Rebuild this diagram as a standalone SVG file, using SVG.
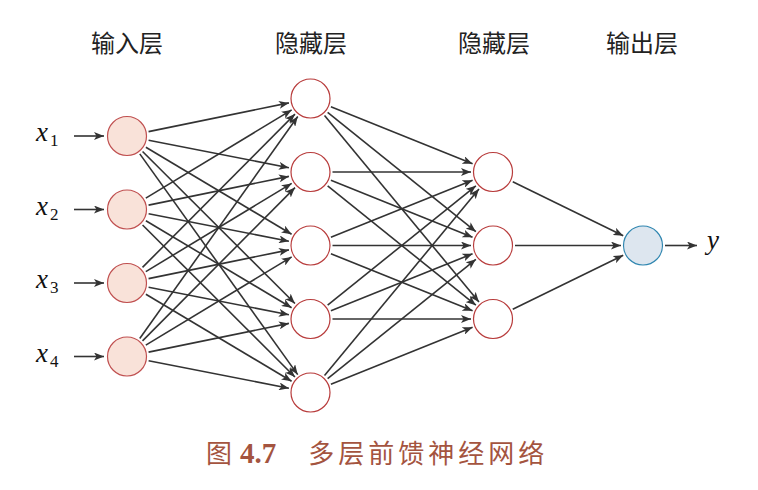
<svg xmlns="http://www.w3.org/2000/svg" width="758" height="490" viewBox="0 0 758 490">
<defs>
<style>
.hdr{font-family:"Noto Sans CJK SC",sans-serif;font-size:24px;fill:#222;text-anchor:middle}
.var{font-family:"Liberation Serif","DejaVu Serif",serif;font-style:italic;font-size:27px;fill:#111}
.sub{font-family:"Liberation Serif","DejaVu Serif",serif;font-size:17px;fill:#111}
.cap{font-family:"Noto Sans CJK SC",sans-serif;font-size:26px;fill:#a4543f}
.capn{font-family:"Liberation Serif","DejaVu Serif",serif;font-weight:bold;font-size:29px;fill:#a4543f}
.in{fill:#f9e2d9;stroke:#c05050;stroke-width:1.2}
.hid{fill:#fff;stroke:#b83c3c;stroke-width:1.2}
.out{fill:#dde6ef;stroke:#2f86b0;stroke-width:1.2}
#edges line{stroke:#333;stroke-width:1.6;marker-end:url(#ah)}
</style>
<marker id="ah" viewBox="0 0 10 8" refX="10" refY="4" markerWidth="10" markerHeight="8" markerUnits="userSpaceOnUse" orient="auto">
<path d="M0,0 L10,4 L0,8 L2.5,4 z" fill="#333"/>
</marker>
</defs>
<rect width="758" height="490" fill="#fff"/>
<g id="headers">
<text class="hdr" x="127" y="52">输入层</text>
<text class="hdr" x="311" y="52">隐藏层</text>
<text class="hdr" x="494" y="52">隐藏层</text>
<text class="hdr" x="642" y="52">输出层</text>
</g>
<g id="edges">
<line x1="74" y1="136" x2="104" y2="136"/>
<line x1="74" y1="209.5" x2="104" y2="209.5"/>
<line x1="74" y1="283" x2="104" y2="283"/>
<line x1="74" y1="356.5" x2="104" y2="356.5"/>
<line x1="148.56" y1="131.60" x2="288.94" y2="102.90"/>
<line x1="148.59" y1="140.24" x2="288.91" y2="167.76"/>
<line x1="145.89" y1="147.27" x2="291.61" y2="234.23"/>
<line x1="142.58" y1="151.53" x2="294.92" y2="303.47"/>
<line x1="139.80" y1="153.89" x2="297.70" y2="374.61"/>
<line x1="145.82" y1="198.11" x2="291.68" y2="109.89"/>
<line x1="148.56" y1="205.10" x2="288.94" y2="176.40"/>
<line x1="148.59" y1="213.74" x2="288.91" y2="241.26"/>
<line x1="145.89" y1="220.77" x2="291.61" y2="307.73"/>
<line x1="142.58" y1="225.03" x2="294.92" y2="376.97"/>
<line x1="142.51" y1="267.40" x2="294.99" y2="114.10"/>
<line x1="145.82" y1="271.61" x2="291.68" y2="183.39"/>
<line x1="148.56" y1="278.60" x2="288.94" y2="249.90"/>
<line x1="148.59" y1="287.24" x2="288.91" y2="314.76"/>
<line x1="145.89" y1="294.27" x2="291.61" y2="381.23"/>
<line x1="139.75" y1="338.57" x2="297.75" y2="116.43"/>
<line x1="142.51" y1="340.90" x2="294.99" y2="187.60"/>
<line x1="145.82" y1="345.11" x2="291.68" y2="256.89"/>
<line x1="148.56" y1="352.10" x2="288.94" y2="323.40"/>
<line x1="148.59" y1="360.74" x2="288.91" y2="388.26"/>
<line x1="330.91" y1="106.72" x2="472.59" y2="163.78"/>
<line x1="327.64" y1="112.30" x2="475.86" y2="231.70"/>
<line x1="324.53" y1="115.45" x2="478.97" y2="302.05"/>
<line x1="332.5" y1="172" x2="471" y2="172"/>
<line x1="330.91" y1="180.22" x2="472.59" y2="237.28"/>
<line x1="327.64" y1="185.80" x2="475.86" y2="305.20"/>
<line x1="330.91" y1="237.28" x2="472.59" y2="180.22"/>
<line x1="332.5" y1="245.5" x2="471" y2="245.5"/>
<line x1="330.91" y1="253.72" x2="472.59" y2="310.78"/>
<line x1="327.64" y1="305.20" x2="475.86" y2="185.80"/>
<line x1="330.91" y1="310.78" x2="472.59" y2="253.72"/>
<line x1="332.5" y1="319" x2="471" y2="319"/>
<line x1="324.53" y1="375.55" x2="478.97" y2="188.95"/>
<line x1="327.64" y1="378.70" x2="475.86" y2="259.30"/>
<line x1="330.91" y1="384.28" x2="472.59" y2="327.22"/>
<line x1="512.76" y1="181.68" x2="623.24" y2="235.82"/>
<line x1="515" y1="245.5" x2="621" y2="245.5"/>
<line x1="512.76" y1="309.32" x2="623.24" y2="255.18"/>
<line x1="665" y1="245.5" x2="697" y2="245.5"/>
</g>
<g id="in1"><circle class="in" cx="127" cy="136" r="19.5"/><text class="var" x="36" y="141">x</text><text class="sub" x="50" y="146">1</text></g>
<g id="in2"><circle class="in" cx="127" cy="209.5" r="19.5"/><text class="var" x="36" y="214.5">x</text><text class="sub" x="50" y="219.5">2</text></g>
<g id="in3"><circle class="in" cx="127" cy="283" r="19.5"/><text class="var" x="36" y="288">x</text><text class="sub" x="50" y="293">3</text></g>
<g id="in4"><circle class="in" cx="127" cy="356.5" r="19.5"/><text class="var" x="36" y="361.5">x</text><text class="sub" x="50" y="366.5">4</text></g>
<g id="h1_1"><circle class="hid" cx="310.5" cy="98.5" r="19.5"/></g>
<g id="h1_2"><circle class="hid" cx="310.5" cy="172" r="19.5"/></g>
<g id="h1_3"><circle class="hid" cx="310.5" cy="245.5" r="19.5"/></g>
<g id="h1_4"><circle class="hid" cx="310.5" cy="319" r="19.5"/></g>
<g id="h1_5"><circle class="hid" cx="310.5" cy="392.5" r="19.5"/></g>
<g id="h2_1"><circle class="hid" cx="493" cy="172" r="19.5"/></g>
<g id="h2_2"><circle class="hid" cx="493" cy="245.5" r="19.5"/></g>
<g id="h2_3"><circle class="hid" cx="493" cy="319" r="19.5"/></g>
<g id="out"><circle class="out" cx="643" cy="245.5" r="19.5"/><text class="var" x="707" y="249">y</text></g>
<g id="caption">
<text x="206" y="463"><tspan class="cap">图</tspan><tspan class="capn" dx="8">4.7</tspan><tspan class="cap" dx="32" letter-spacing="4">多层前馈神经网络</tspan></text>
</g>
</svg>
